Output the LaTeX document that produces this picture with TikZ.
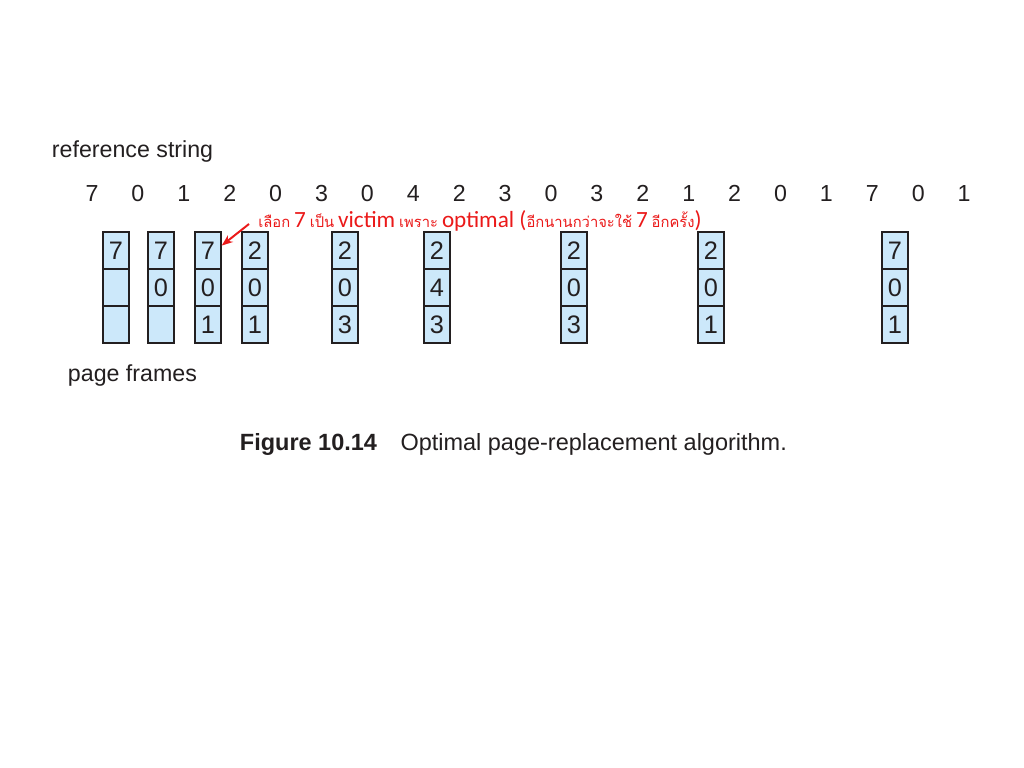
\documentclass[tikz,border=0pt]{standalone}
\usepackage{fontspec}
\setmainfont{Liberation Sans}
\newfontfamily\annofont{Carlito}
\newfontfamily\thaifont[Script=Thai]{Loma}
\usetikzlibrary{arrows.meta}
\usetikzlibrary{positioning}

\definecolor{framefill}{RGB}{204,232,250}
\definecolor{ink}{RGB}{35,31,32}
\definecolor{annored}{RGB}{235,25,25}

\newcommand{\thaiword}[1]{{\thaifont\fontsize{10.5}{13}\selectfont #1}}
\newcommand{\latinword}[1]{{\annofont\fontsize{16.5}{20}\selectfont #1}}

\begin{document}
\begin{tikzpicture}[x=0.025cm,y=-0.025cm]
        \useasboundingbox[fill=white] (0,0) rectangle (1024,768);

        \begin{scope}[every node/.style={text=ink,font=\fontsize{16.5}{20}\selectfont}]
            \node[anchor=west] (refstr) at (47,152) {reference string};
            \node[anchor=west] (pgframes) at (63,376) {page frames};
            \node[anchor=west] (caption) at (235,444) {\fontsize{16.7}{20}\selectfont\textbf{Figure 10.14}\quad Optimal page-replacement algorithm.};
            \foreach \v [count=\i] in {7,0,1,2,0,3,0,4,2,3,0,3,2,1,2,0,1,7,0,1}
                \node[anchor=base] (r\i) at ({92+45.9*(\i-1)},201) {\v};
        \end{scope}

        % frame contents after each fault
        \begin{scope}[every node/.style={rectangle,draw=ink,line width=1pt,fill=framefill,text=ink,
            minimum width=0.65cm,minimum height=0.925cm,inner sep=0pt,
            text height=12.9pt,text depth=0pt,
            font=\fontsize{18}{20}\selectfont}]
            \foreach \x/\a/\b/\c [count=\k] in {116/7/{}/{},161/7/0/{},208/7/0/1,255/2/0/1,
                345/2/0/3,437/2/4/3,574/2/0/3,711/2/0/1,895/7/0/1}
            {
                \node (f\k-1) at (\x,250.5) {\a};
                \node (f\k-2) at (\x,287.5) {\b};
                \node (f\k-3) at (\x,324.5) {\c};
            }
        \end{scope}

        \node[anchor=west,text=annored,inner sep=0pt] (victim) at (258,221)
            {\thaiword{เลือก} \latinword{7} \thaiword{เป็น} \latinword{victim} \thaiword{เพราะ}
             \latinword{optimal (}\thaiword{อีกนานกว่าจะใช้} \latinword{7} \thaiword{อีกครั้ง}\latinword{)}};

        \begin{scope}[>={Stealth[annored,length=8pt,width=6pt]}]
            \draw [->,annored,line width=1.4pt] ([shift={(-9,3)}]victim.west) -- ([yshift=3.5pt]f3-1.east);
        \end{scope}
    \end{tikzpicture}
\end{document}
